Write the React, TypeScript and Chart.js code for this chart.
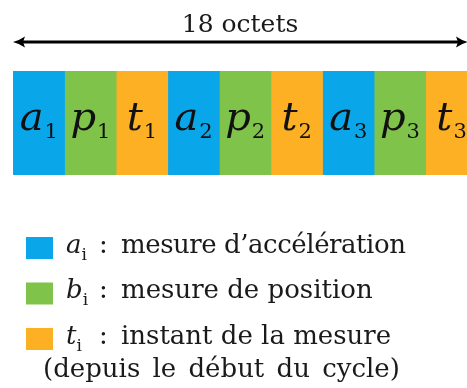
import React, { useEffect, useRef } from "react";
import { Chart, registerables } from "chart.js";
Chart.register(...registerables);

// ---- data ----
const totalLabel = "18 octets";
const fieldLetters = ["a", "p", "t", "a", "p", "t", "a", "p", "t"];
const fieldIndices = ["1", "1", "1", "2", "2", "2", "3", "3", "3"];
const fieldOctets = [2, 2, 2, 2, 2, 2, 2, 2, 2];
const kindColors: Record<string, string> = { a: "#0aa6ea", p: "#80c34a", t: "#fdb024", b: "#80c34a" };
const legendLetters = ["a", "b", "t"];
const legendSub = "i";
const legendLines = [
  ["mesure d\u2019accélération"],
  ["mesure de position"],
  ["instant de la mesure", "(depuis le début du cycle)"],
];
const xVisibleMax = 17.6;

const SERIF = "'DejaVu Serif', serif";

const diagramPlugin = {
  id: "diagram",
  afterDatasetsDraw(chart: any) {
    const ctx = chart.ctx as CanvasRenderingContext2D;
    ctx.save();
    ctx.fillStyle = "#111";
    ctx.textBaseline = "alphabetic";
    ctx.textAlign = "left";
    chart.data.datasets.forEach((_ds: any, i: number) => {
      const el = chart.getDatasetMeta(i).data[0];
      const { x, base, y } = el.getProps(["x", "base", "y"], true);
      const cx = (x + base) / 2;
      const letter = fieldLetters[i];
      const sub = fieldIndices[i];
      ctx.font = `italic 40px ${SERIF}`;
      const lw = ctx.measureText(letter).width;
      ctx.font = `21px ${SERIF}`;
      const sw = ctx.measureText(sub).width;
      const gap = 1;
      const start = cx - (lw + gap + sw) / 2;
      ctx.font = `italic 40px ${SERIF}`;
      ctx.fillText(letter, start, y + 6.5);
      ctx.font = `21px ${SERIF}`;
      ctx.fillText(sub, start + lw + gap, y + 15);
    });
    ctx.restore();
  },
  afterDraw(chart: any) {
    const ctx = chart.ctx as any;
    const area = chart.chartArea;
    const xs = chart.scales.x;
    ctx.save();
    // arrow
    const ay = area.top - 29;
    const x0 = xs.getPixelForValue(0);
    const x1 = area.right;
    ctx.strokeStyle = "#000";
    ctx.fillStyle = "#000";
    ctx.lineWidth = 3;
    ctx.beginPath();
    ctx.moveTo(x0 + 6, ay);
    ctx.lineTo(x1 - 6, ay);
    ctx.stroke();
    const head = (tip: number, dir: number) => {
      ctx.beginPath();
      ctx.moveTo(tip, ay);
      ctx.quadraticCurveTo(tip + dir * 6, ay - 1.5, tip + dir * 12, ay - 5.5);
      ctx.lineTo(tip + dir * 10, ay);
      ctx.lineTo(tip + dir * 12, ay + 5.5);
      ctx.quadraticCurveTo(tip + dir * 6, ay + 1.5, tip, ay);
      ctx.closePath();
      ctx.fill();
    };
    head(x0, 1);
    head(x1 + 1, -1);
    // title
    ctx.fillStyle = "#1a1a1a";
    ctx.font = `25px ${SERIF}`;
    ctx.textAlign = "center";
    ctx.textBaseline = "alphabetic";
    ctx.fillText(totalLabel, (x0 + x1) / 2, ay - 10);

    // legend
    const legTop = area.bottom + 62;
    const rowStep = 45.5;
    ctx.textAlign = "left";
    const spacingFor = (r: number, k: number) => {
      if (r === 0) return ["-0.45px", "0px"];
      if (k > 0) return ["0px", "4px"];
      return ["0px", "0px"];
    };
    legendLetters.forEach((letter, r) => {
      const sqTop = legTop + r * rowStep;
      ctx.fillStyle = kindColors[letter];
      ctx.fillRect(26, sqTop, 27, 22);
      const baseY = sqTop + 15.5;
      ctx.fillStyle = "#1a1a1a";
      ctx.font = `italic 26px ${SERIF}`;
      const lx = 66;
      ctx.fillText(letter, lx, baseY);
      const lw = ctx.measureText(letter).width;
      ctx.font = `17px ${SERIF}`;
      ctx.fillText(legendSub, lx + lw, baseY + 7);
      ctx.font = `26px ${SERIF}`;
      ctx.fillText(":", 99, baseY);
      const lines = legendLines[r];
      for (let k = 0; k < lines.length; k++) {
        const [ls, ws] = spacingFor(r, k);
        ctx.letterSpacing = ls;
        ctx.wordSpacing = ws;
        ctx.fillText(lines[k], k === 0 ? 121 : 43, baseY + 33 * k);
      }
      ctx.letterSpacing = "0px";
      ctx.wordSpacing = "0px";
    });
    ctx.restore();
  },
};

export default function App() {
  const ref = useRef<HTMLCanvasElement | null>(null);
  useEffect(() => {
    if (!ref.current) return;
    const chart = new Chart(ref.current, {
      type: "bar",
      data: {
        labels: ["trame"],
        datasets: fieldLetters.map((l, i) => ({
          label: `${l}${fieldIndices[i]}`,
          data: [fieldOctets[i]],
          backgroundColor: kindColors[l],
          borderWidth: 0,
          borderSkipped: false,
          barPercentage: 1,
          categoryPercentage: 1,
        })),
      },
      options: {
        indexAxis: "y",
        responsive: false,
        animation: false,
        devicePixelRatio: 1,
        layout: { padding: { top: 71, bottom: 213, left: 13, right: 0 } },
        scales: {
          x: { stacked: true, min: 0, max: xVisibleMax, display: false },
          y: { stacked: true, display: false },
        },
        plugins: { legend: { display: false }, tooltip: { enabled: false } },
      },
      plugins: [diagramPlugin],
    } as any);
    return () => chart.destroy();
  }, []);
  return (
    <div style={{ position: "fixed", left: 0, top: 0, width: 467, height: 388, overflow: "hidden", background: "#fff" }}>
      <canvas ref={ref} width={467} height={388} style={{ display: "block" }} />
    </div>
  );
}
